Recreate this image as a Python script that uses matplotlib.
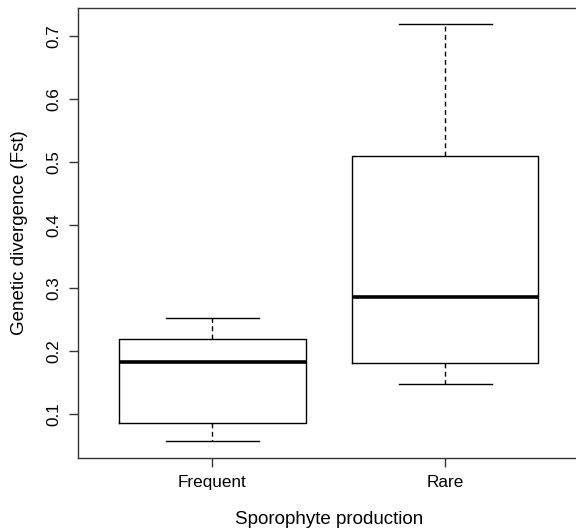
import matplotlib
matplotlib.use('Agg')
import matplotlib.pyplot as plt

plt.rcParams['font.family'] = ['Liberation Sans', 'DejaVu Sans']

# boxplot summary values
groups = ['Frequent', 'Rare']
whisker_low = [0.058, 0.1486]
q1 = [0.0867, 0.181]
medians = [0.1835, 0.2862]
q3 = [0.219, 0.5106]
whisker_high = [0.2524, 0.719]
yticks = [0.1, 0.2, 0.3, 0.4, 0.5, 0.6, 0.7]

stats = []
for i, g in enumerate(groups):
    stats.append({'label': g, 'whislo': whisker_low[i], 'q1': q1[i], 'med': medians[i],
                  'q3': q3[i], 'whishi': whisker_high[i], 'fliers': []})

fig = plt.figure(figsize=(5.76, 5.29), dpi=100)
ax = fig.add_axes([77.7 / 576, 71 / 529, 502.3 / 576, 450.3 / 529])

lw = 1.0
ax.bxp(stats, positions=[1, 2], widths=0.8, showfliers=False,
       boxprops=dict(color='black', linewidth=lw),
       medianprops=dict(color='black', linewidth=2.6, solid_capstyle='butt'),
       whiskerprops=dict(color='black', linewidth=lw, linestyle=(0, (3.5, 2.5))),
       capprops=dict(color='black', linewidth=lw), capwidths=0.4)

ax.set_xlim(0.421, 2.579)
ax.set_ylim(0.0306, 0.7454)
ax.set_yticks(yticks)
ax.set_yticklabels([f'{v:.1f}' for v in yticks], rotation=90, va='center')
ax.set_xticks([1, 2])
ax.set_xticklabels(groups)

for s in ax.spines.values():
    s.set_linewidth(1.0)
    s.set_color('#333333')
ax.tick_params(length=6.5, width=1.0, color='#333333', labelsize=12.3, pad=6)
ax.tick_params(axis='y', pad=5)

ax.set_xlabel('Sporophyte production', fontsize=13.5, va='center')
ax.xaxis.set_label_coords(0.5, -61 / 450.3)
ax.set_ylabel('Genetic divergence (Fst)', fontsize=13.5, va='center')
ax.yaxis.set_label_coords(-58 / 502.3, 0.5)

fig.savefig('out.png', dpi=100)
